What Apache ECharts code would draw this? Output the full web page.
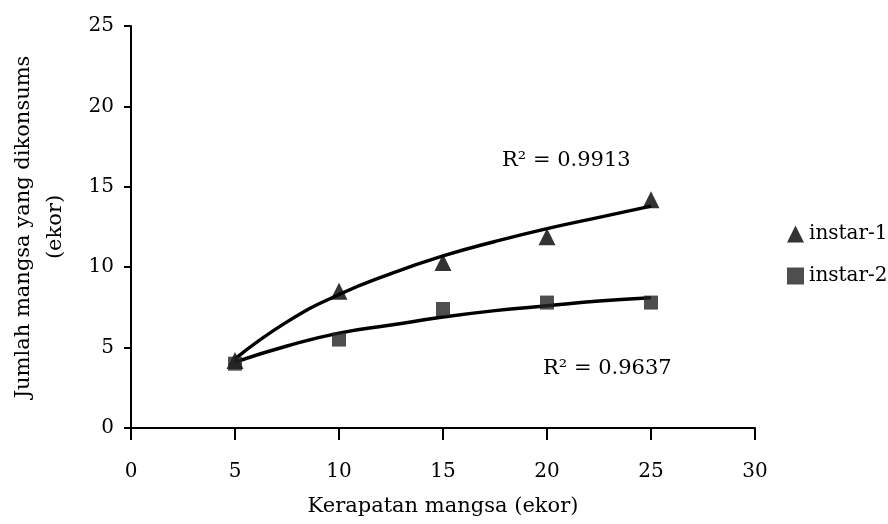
<!DOCTYPE html>
<html><head><meta charset="utf-8">
<script src="https://cdn.jsdelivr.net/npm/echarts@6/dist/echarts.min.js"></script>
<style>html,body{margin:0;padding:0;background:#fff}#c{width:888px;height:524px}</style>
</head><body><div id="c"></div>
<script>
var densities = [5, 10, 15, 20, 25];
var instar1 = [4.2, 8.5, 10.3, 11.9, 14.2];
var instar2 = [4.0, 5.5, 7.4, 7.8, 7.8];
// trendline values
var trendX = [5, 7.5, 10, 12.5, 15, 17.5, 20, 22.5, 25];
var trend1 = [4.3, 6.6, 8.3, 9.6, 10.7, 11.6, 12.4, 13.1, 13.8];
var trend2 = [4.1, 5.1, 5.9, 6.4, 6.9, 7.3, 7.6, 7.9, 8.1];
var r2Labels = ['R² = 0.9913', 'R² = 0.9637'];
var xTicks = [0, 5, 10, 15, 20, 25, 30];
var yTicks = [0, 5, 10, 15, 20, 25];

function pairs(xs, ys){ return xs.map(function(x,i){ return [x, ys[i]]; }); }
var font = 'DejaVu Serif';
var chart = echarts.init(document.getElementById('c'));
chart.setOption({
  animation: false,
  backgroundColor: '#fff',
  textStyle: {fontFamily: font, color: '#000'},
  grid: {left: 129, right: 133, top: 26, bottom: 96},
  xAxis: {
    type: 'value', min: xTicks[0], max: xTicks[xTicks.length-1], interval: 5,
    name: 'Kerapatan mangsa (ekor)', nameLocation: 'middle', nameGap: 68,
    nameTextStyle: {fontFamily: font, fontSize: 21, color: '#000'},
    axisLine: {lineStyle: {color: '#000', width: 2}},
    axisTick: {show: true, length: 12, lineStyle: {color: '#000', width: 2}},
    axisLabel: {fontFamily: font, fontSize: 20, color: '#000', margin: 34},
    splitLine: {show: false}
  },
  yAxis: {
    type: 'value', min: yTicks[0], max: yTicks[yTicks.length-1], interval: 5,
    name: 'Jumlah mangsa yang dikonsums\n(ekor)', nameLocation: 'middle', nameGap: 59,
    nameTextStyle: {fontFamily: font, fontSize: 21, color: '#000', lineHeight: 32},
    axisLine: {show: true, lineStyle: {color: '#000', width: 2}},
    axisTick: {show: true, length: 7, lineStyle: {color: '#000', width: 2}},
    axisLabel: {fontFamily: font, fontSize: 20, color: '#000', margin: 17},
    splitLine: {show: false}
  },
  legend: {
    orient: 'vertical', left: 782, top: 219, itemGap: 22,
    itemWidth: 17, itemHeight: 17,
    textStyle: {fontFamily: font, fontSize: 20, color: '#000'},
    data: [{name: 'instar-1', icon: 'triangle'}, {name: 'instar-2', icon: 'rect'}]
  },
  series: [
    {name: 'trend1', type: 'line', data: pairs(trendX, trend1), smooth: true, showSymbol: false,
     lineStyle: {color: '#000', width: 3.5}, z: 2},
    {name: 'trend2', type: 'line', data: pairs(trendX, trend2), smooth: true, showSymbol: false,
     lineStyle: {color: '#000', width: 3.5}, z: 2},
    {name: 'instar-1', type: 'scatter', data: pairs(densities, instar1), symbol: 'triangle', symbolSize: 17,
     itemStyle: {color: '#000'}, z: 3},
    {name: 'instar-2', type: 'scatter', data: pairs(densities, instar2), symbol: 'rect', symbolSize: 14,
     itemStyle: {color: '#222'}, z: 3}
  ],
  graphic: [
    {type: 'text', left: 502, top: 150, style: {text: r2Labels[0], font: '21px "DejaVu Serif"', fill: '#000'}},
    {type: 'text', left: 543, top: 358, style: {text: r2Labels[1], font: '21px "DejaVu Serif"', fill: '#000'}}
  ]
});
</script></body></html>
